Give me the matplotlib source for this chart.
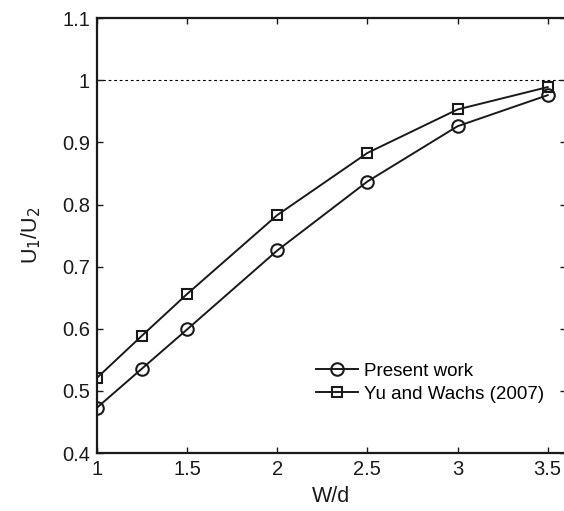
import numpy as np
import matplotlib
matplotlib.use('Agg')
from matplotlib import pyplot as plt

plt.rcParams['font.family'] = ['Liberation Sans', 'DejaVu Sans']

# velocity ratio vs. gap ratio
wd = [1.0, 1.25, 1.5, 2.0, 2.5, 3.0, 3.5]
present = [0.473, 0.536, 0.599, 0.726, 0.837, 0.926, 0.976]
yu_wachs = [0.521, 0.589, 0.656, 0.783, 0.883, 0.953, 0.989]

xticks = [1, 1.5, 2, 2.5, 3, 3.5]
xticklabels = ['1', '1.5', '2', '2.5', '3', '3.5']
yticks = [0.4, 0.5, 0.6, 0.7, 0.8, 0.9, 1.0, 1.1]
yticklabels = ['0.4', '0.5', '0.6', '0.7', '0.8', '0.9', '1', '1.1']

fig = plt.figure(figsize=(5.64, 5.11), dpi=100)
ax = fig.add_axes([0.172, 0.1135, 0.831, 0.851])

ax.axhline(1.0, color='black', lw=0.8, ls=(0, (2.5, 2.5)), zorder=1)
ax.plot(wd, present, '-o', color='#1a1a1a', lw=1.4, ms=9, mfc='none',
        mew=1.5, label='Present work')
ax.plot(wd, yu_wachs, '-s', color='#1a1a1a', lw=1.4, ms=7.5, mfc='none',
        mew=1.5, label='Yu and Wachs (2007)')

ax.set_xlim(1, 3.6)
ax.set_ylim(0.4, 1.1)
ax.set_xticks(xticks)
ax.set_xticklabels(xticklabels)
ax.set_yticks(yticks)
ax.set_yticklabels(yticklabels)
ax.tick_params(direction='in', length=4, width=1, top=True, right=True,
               labelsize=14.5, colors='#1a1a1a', pad=5)
for s in ax.spines.values():
    s.set_linewidth(1.6)
    s.set_color('#1a1a1a')

ax.set_xlabel('W/d', fontsize=15.5, color='#1a1a1a', labelpad=5)
ax.set_ylabel(r'U$_1$/U$_2$', fontsize=15.5, color='#1a1a1a', labelpad=14)

ax.legend(loc='upper left', bbox_to_anchor=(0.452, 0.225), frameon=False,
          fontsize=13.5, handlelength=2.2, handletextpad=0.35, labelspacing=0.3,
          borderaxespad=0)

fig.savefig('out.png', dpi=100)
